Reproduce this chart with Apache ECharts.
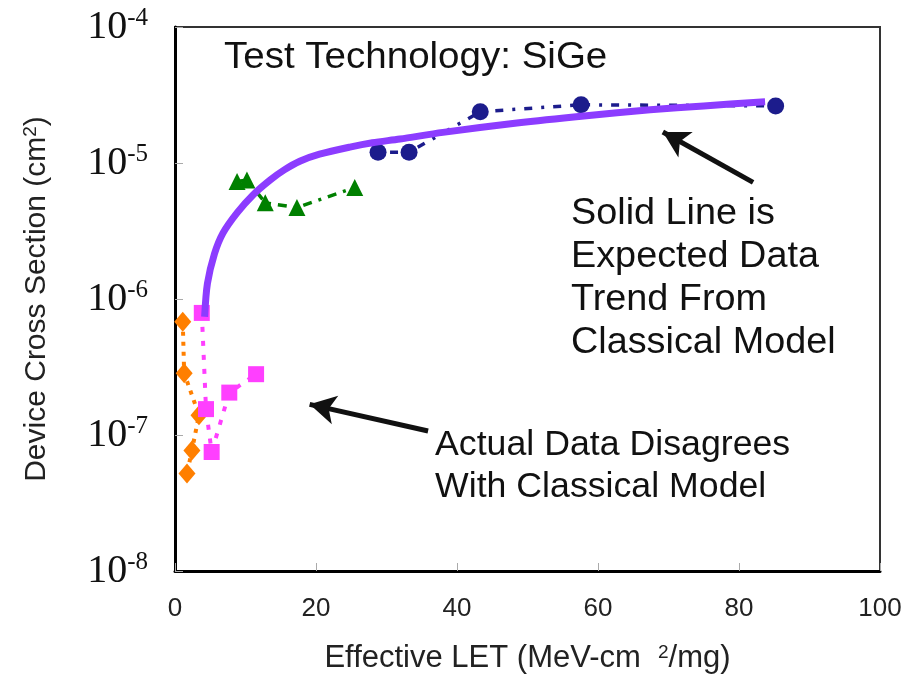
<!DOCTYPE html>
<html>
<head>
<meta charset="utf-8">
<script src="https://cdn.jsdelivr.net/npm/echarts@6/dist/echarts.min.js"></script>
<style>
  html, body { margin: 0; padding: 0; background: #fff; }
  #chart { width: 907px; height: 679px; }
</style>
</head>
<body>
<div id="chart"></div>
<script>
var chartDom = document.getElementById('chart');
var myChart = echarts.init(chartDom);

// LET (x) and cross section (y) for each data set
var orangeX = [1.1, 1.3, 3.4, 2.4, 1.7];
var orangeY = [6.8e-7, 2.85e-7, 1.4e-7, 7.7e-8, 5.2e-8];
var pinkX = [3.8, 4.4, 5.2, 7.7, 11.5];
var pinkY = [7.9e-7, 1.55e-7, 7.5e-8, 2.05e-7, 2.8e-7];
var greenX = [8.8, 10.2, 12.8, 17.3, 25.5];
var greenY = [7.3e-6, 7.5e-6, 5.1e-6, 4.7e-6, 6.6e-6];
var blueX = [28.8, 33.2, 43.3, 57.6, 85.2];
var blueY = [1.2e-5, 1.2e-5, 2.38e-5, 2.68e-5, 2.63e-5];
// classical model trend curve
var modelX = [4.2, 4.6, 5.6, 6.8, 8.8, 11.1, 13.5, 15.5, 17.7, 20.5, 24.8, 28, 31.9, 38, 48.5, 58, 67.4, 75, 83.7];
var modelY = [7.4e-7, 1.3e-6, 2.15e-6, 3.05e-6, 4.3e-6, 5.85e-6, 7.5e-6, 8.9e-6, 1.03e-5, 1.16e-5, 1.31e-5, 1.41e-5, 1.5e-5, 1.68e-5, 1.97e-5, 2.22e-5, 2.46e-5, 2.63e-5, 2.82e-5];

var xTicks = [0, 20, 40, 60, 80, 100];
var yMin = 1e-8, yMax = 1e-4;

// arrows [tail, head]
var arrow1 = [[82.0, 7.2e-6], [69.2, 1.69e-5]];
var arrow2 = [[35.9, 1.07e-7], [19.1, 1.68e-7]];

function pairs(xs, ys) {
    var out = [];
    for (var i = 0; i < xs.length; i++) out.push([xs[i], ys[i]]);
    return out;
}

function arrowLine(a) {
    return [{ coord: a[0] }, { coord: a[1] }];
}

var option = {
    animation: false,
    backgroundColor: '#fff',
    grid: {
        left: 175, right: 27, top: 27, bottom: 107,
        show: true, borderColor: '#333', borderWidth: 2
    },
    xAxis: {
        type: 'value',
        min: xTicks[0], max: xTicks[xTicks.length - 1], interval: 20,
        axisLine: { lineStyle: { color: '#000', width: 3 } },
        axisTick: { inside: true, length: 8, lineStyle: { color: '#aaa' } },
        splitLine: { show: false },
        axisLabel: {
            margin: 25, color: '#222',
            fontFamily: 'Liberation Sans', fontSize: 26
        },
        name: 'Effective LET (MeV-cm  {s|2}/mg)',
        nameLocation: 'middle',
        nameGap: 72,
        nameTextStyle: {
            fontFamily: 'Liberation Sans', fontSize: 31, color: '#222',
            rich: { s: { fontFamily: 'Liberation Sans', fontSize: 19, color: '#222', padding: [0, 0, 12, 0] } }
        }
    },
    yAxis: {
        type: 'log', logBase: 10, min: yMin, max: yMax,
        axisLine: { show: true, lineStyle: { color: '#000', width: 3 } },
        axisTick: { show: true, inside: true, length: 8, lineStyle: { color: '#aaa' } },
        splitLine: { show: false },
        axisLabel: {
            margin: 27,
            formatter: function (v) {
                var e = Math.round(Math.log10(v));
                return '{b|10}{s|' + e + '}';
            },
            rich: {
                b: { fontFamily: 'Liberation Serif', fontSize: 40, color: '#111' },
                s: { fontFamily: 'Liberation Serif', fontSize: 25, color: '#111', padding: [0, 0, 17, 0] }
            }
        },
        name: 'Device Cross Section (cm{s|2})',
        nameLocation: 'middle',
        nameGap: 122,
        nameTextStyle: {
            fontFamily: 'Liberation Sans', fontSize: 30, color: '#222',
            rich: { s: { fontFamily: 'Liberation Sans', fontSize: 19, color: '#222', padding: [0, 0, 13, 0] } }
        }
    },
    series: [
        {
            type: 'line', data: pairs(orangeX, orangeY),
            symbol: 'diamond', symbolSize: [17, 20],
            itemStyle: { color: '#ff7f00' },
            lineStyle: { color: '#ff7f00', width: 4, type: [4, 6] },
            z: 3
        },
        {
            type: 'line', data: pairs(pinkX, pinkY),
            symbol: 'rect', symbolSize: 16,
            itemStyle: { color: '#ff3fff' },
            lineStyle: { color: '#ff3fff', width: 4, type: [5, 9] },
            z: 3
        },
        {
            type: 'line', data: pairs(greenX, greenY),
            symbol: 'triangle', symbolSize: 17,
            itemStyle: { color: '#008000' },
            lineStyle: { color: '#008000', width: 3.5, type: [9, 7, 3, 7] },
            z: 3
        },
        {
            type: 'line', data: pairs(blueX, blueY),
            symbol: 'circle', symbolSize: 17,
            itemStyle: { color: '#1c1c8c' },
            lineStyle: { color: '#1c1c8c', width: 3.5, type: [3, 9, 8, 9] },
            z: 3
        },
        {
            type: 'line', data: pairs(modelX, modelY),
            smooth: 0.3, showSymbol: false,
            lineStyle: { color: '#8c3cff', width: 7 },
            z: 4,
            markLine: {
                silent: true,
                symbol: ['none', 'arrow'],
                symbolSize: [22, 26],
                label: { show: false },
                lineStyle: { color: '#111', width: 5, type: 'solid' },
                data: [arrowLine(arrow1), arrowLine(arrow2)]
            }
        }
    ],
    graphic: [
        {
            type: 'text', left: 224, top: 40, scaleX: 1.07,
            style: { text: 'Test Technology: SiGe', font: '36px "Liberation Sans"', fill: '#111' }
        },
        {
            type: 'text', left: 571, top: 193, scaleX: 1.05,
            style: {
                text: 'Solid Line is\nExpected Data\nTrend From\nClassical Model',
                font: '36px "Liberation Sans"', fill: '#111', lineHeight: 43
            }
        },
        {
            type: 'text', left: 435, top: 424, scaleX: 1.02,
            style: {
                text: 'Actual Data Disagrees\nWith Classical Model',
                font: '35px "Liberation Sans"', fill: '#111', lineHeight: 42
            }
        }
    ]
};

option && myChart.setOption(option);
</script>
</body>
</html>
